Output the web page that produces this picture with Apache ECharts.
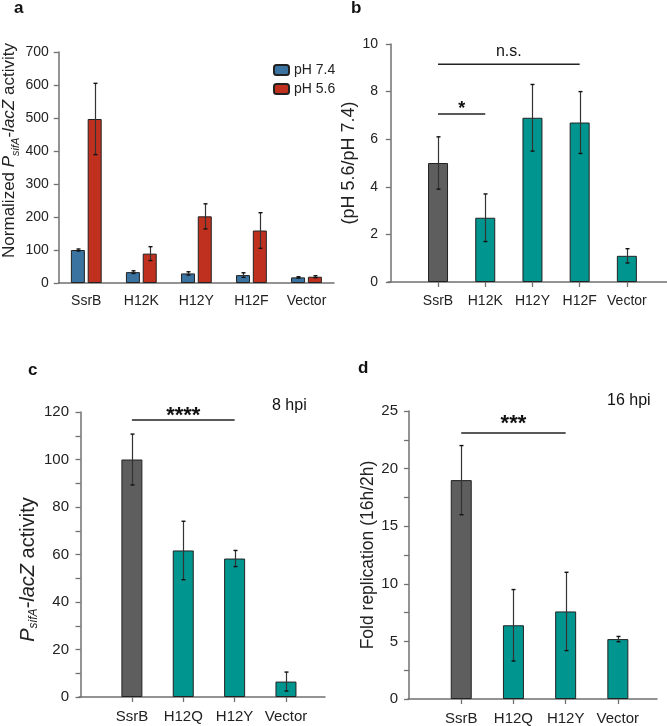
<!DOCTYPE html>
<html>
<head>
<meta charset="utf-8">
<script src="https://cdn.jsdelivr.net/npm/echarts@6/dist/echarts.min.js"></script>
<style>
  html, body { margin: 0; padding: 0; background: #fff; }
  #main { width: 667px; height: 726px; }
</style>
</head>
<body>
<div id="main"></div>
<script>
// panel a
const catsA = ['SsrB', 'H12K', 'H12Y', 'H12F', 'Vector'];
const ph74 = [100, 33, 29, 24, 17];
const ph74Err = [3, 4, 5, 7, 2];
const ph56 = [497, 89, 202, 159, 19];
const ph56Err = [108, 21, 38, 54, 3];
// panel b
const catsB = ['SsrB', 'H12K', 'H12Y', 'H12F', 'Vector'];
const ratioB = [5.0, 2.7, 6.9, 6.7, 1.1];
const ratioErr = [1.1, 1.0, 1.4, 1.3, 0.3];
const sigB = [[1, 4, 9.15], [1, 2, 7.06]];
const sigBText = ['n.s.', '*'];
// panel c
const catsC = ['SsrB', 'H12Q', 'H12Y', 'Vector'];
const lacC = [100, 61.7, 58.3, 6.5];
const lacErr = [10.7, 12.3, 3.4, 4.0];
const sigC = [[1, 3, 116.6]];
const sigCText = ['****'];
// panel d
const catsD = ['SsrB', 'H12Q', 'H12Y', 'Vector'];
const foldD = [19.0, 6.4, 7.6, 5.2];
const foldErr = [3.0, 3.1, 3.4, 0.23];
const sigD = [[1, 3, 23.1]];
const sigDText = ['***'];

const FONT = '"Liberation Sans", Arial, Helvetica, sans-serif';
const AXIS = '#707070';
const BLUE = '#3a72a0';
const RED = '#c0301f';
const GRAY = '#5e5e5e';
const TEAL = '#00968f';

const myChart = echarts.init(document.getElementById('main'));

function errData(vals, errs, xs) {
  return vals.map((v, i) => [xs ? xs[i] : i, v - errs[i], v + errs[i]]);
}

function errSeries(idx, data, dx) {
  return {
    type: 'custom',
    xAxisIndex: idx,
    yAxisIndex: idx,
    z: 10,
    silent: true,
    data: data,
    renderItem: function (params, api) {
      const lo = api.coord([api.value(0), api.value(1)]);
      const hi = api.coord([api.value(0), api.value(2)]);
      const x = Math.round(lo[0] + (dx || 0)) + 0.5;
      const cap = 2;
      return {
        type: 'group',
        children: [
          { type: 'line', shape: { x1: x, y1: lo[1], x2: x, y2: hi[1] }, style: { stroke: '#333', lineWidth: 1.2 } },
          { type: 'line', shape: { x1: x - cap, y1: lo[1], x2: x + cap, y2: lo[1] }, style: { stroke: '#111', lineWidth: 1.4 } },
          { type: 'line', shape: { x1: x - cap, y1: hi[1], x2: x + cap, y2: hi[1] }, style: { stroke: '#111', lineWidth: 1.4 } }
        ]
      };
    }
  };
}

// significance bar: line between two groups, text centred above it
function sigSeries(idx, data, texts, fontSize, bold, lift) {
  return {
    type: 'custom',
    xAxisIndex: idx,
    yAxisIndex: idx,
    silent: true,
    clip: false,
    z: 10,
    data: data,
    renderItem: function (params, api) {
      const a = api.coord([api.value(0), api.value(2)]);
      const b = api.coord([api.value(1), api.value(2)]);
      const k = params.dataIndex;
      return {
        type: 'group',
        children: [
          { type: 'line', shape: { x1: a[0], y1: a[1], x2: b[0], y2: b[1] }, style: { stroke: '#222', lineWidth: 1.5 } },
          { type: 'text', style: { text: texts[k], x: (a[0] + b[0]) / 2, y: a[1] - lift[k],
            align: 'center', verticalAlign: 'middle', fontSize: fontSize[k],
            fontWeight: bold[k] ? 'bold' : 'normal', fontFamily: FONT, fill: '#111' } }
        ]
      };
    }
  };
}

function yAxisBase(idx, max, interval, fs, minor) {
  return {
    type: 'value', gridIndex: idx, min: 0, max: max, interval: interval,
    axisLine: { show: true, lineStyle: { color: AXIS, width: 1.5 } },
    axisTick: { show: true, length: 5, lineStyle: { color: AXIS, width: 1.3 } },
    minorTick: { show: !!minor, splitNumber: 2, length: 5, lineStyle: { color: AXIS, width: 1.3 } },
    axisLabel: { color: '#222', fontSize: fs, fontFamily: FONT, margin: 10 },
    splitLine: { show: false }
  };
}

function xValueAxis(idx, cats, min, max, fs) {
  const vals = cats.map((c, i) => i + 1);
  return {
    type: 'value', gridIndex: idx, min: min, max: max,
    axisLine: { show: true, onZero: false, lineStyle: { color: AXIS, width: 1.5 } },
    axisTick: { show: true, length: 5, customValues: vals, lineStyle: { color: AXIS, width: 1.3 } },
    axisLabel: { customValues: vals, color: '#222', fontSize: fs, fontFamily: FONT, margin: 12,
      formatter: function (v) { return cats[Math.round(v) - 1] || ''; } },
    splitLine: { show: false }
  };
}

function nameRich(fs) {
  return {
    n: { fontSize: fs, fontFamily: FONT, color: '#222', lineHeight: 24 },
    i: { fontSize: fs, fontFamily: FONT, fontStyle: 'italic', color: '#222', lineHeight: 24 },
    s: { fontSize: Math.round(fs * 0.62), fontFamily: FONT, fontStyle: 'italic', color: '#222', lineHeight: 11, verticalAlign: 'bottom' }
  };
}

function label(text, x, y, fs, bold) {
  return { type: 'text', left: x, top: y, z: 20,
    style: { text: text, fontSize: fs, fontWeight: bold ? 'bold' : 'normal', fontFamily: FONT, fill: '#111' } };
}

const xs = catsB.map((c, i) => i + 1);
const xsC = catsC.map((c, i) => i + 1);

const yA = yAxisBase(0, 700, 100, 14);
yA.name = '{n|Normalized }{i|P}{s|sifA}{n|-}{i|lacZ}{n| activity}';
yA.nameLocation = 'middle';
yA.nameGap = 35;
yA.nameTextStyle = { rich: nameRich(17), padding: [0, 0, 0, 34] };

const yB = yAxisBase(1, 10, 2, 14);
yB.name = '(pH 5.6/pH 7.4)';
yB.nameLocation = 'middle';
yB.nameGap = 22;
yB.nameTextStyle = { fontSize: 18, fontFamily: FONT, color: '#222' };

const yC = yAxisBase(2, 120, 20, 15, true);
yC.name = '{i|P}{s|sifA}{i|-lacZ}{n| activity}';
yC.nameLocation = 'middle';
yC.nameGap = 33;
yC.nameTextStyle = { rich: nameRich(20), padding: [0, 30, 0, 0] };

const yD = yAxisBase(3, 25, 5, 15, true);
yD.name = 'Fold replication (16h/2h)';
yD.nameLocation = 'middle';
yD.nameGap = 30;
yD.nameTextStyle = { fontSize: 17.5, fontFamily: FONT, color: '#222' };

myChart.setOption({
  animation: false,
  backgroundColor: '#fff',
  textStyle: { fontFamily: FONT },
  grid: [
    { left: 56, top: 52, width: 278, height: 231 },
    { left: 388, top: 44, width: 279, height: 238 },
    { left: 79, top: 412, width: 246, height: 285 },
    { left: 408, top: 411, width: 249, height: 288 }
  ],
  legend: {
    data: ['pH 7.4', 'pH 5.6'],
    orient: 'vertical', left: 268, top: 58,
    itemWidth: 15, itemHeight: 10, itemGap: 5,
    textStyle: { fontSize: 14, fontFamily: FONT, color: '#222' }
  },
  xAxis: [
    {
      type: 'category', gridIndex: 0, data: catsA,
      axisLine: { lineStyle: { color: AXIS, width: 1.5 } },
      axisTick: { alignWithLabel: true, length: 5, lineStyle: { color: AXIS, width: 1.3 } },
      axisLabel: { color: '#222', fontSize: 14, fontFamily: FONT, margin: 11 }
    },
    xValueAxis(1, catsB, -0.06, 5.85, 14),
    xValueAxis(2, catsC, -0.03, 4.76, 15),
    xValueAxis(3, catsD, -0.02, 4.75, 15)
  ],
  yAxis: [yA, yB, yC, yD],
  series: [
    { name: 'pH 7.4', type: 'bar', xAxisIndex: 0, yAxisIndex: 0, data: ph74, barWidth: 14, barGap: '20%',
      itemStyle: { color: BLUE, borderColor: '#222', borderWidth: 1 } },
    { name: 'pH 5.6', type: 'bar', xAxisIndex: 0, yAxisIndex: 0, data: ph56, barWidth: 14, barGap: '20%',
      itemStyle: { color: RED, borderColor: '#222', borderWidth: 1 } },
    errSeries(0, errData(ph74, ph74Err), -8.4),
    errSeries(0, errData(ph56, ph56Err), 8.4),

    { type: 'bar', xAxisIndex: 1, yAxisIndex: 1, barWidth: 20,
      data: ratioB.map((v, i) => [xs[i], v]),
      itemStyle: { color: function (p) { return p.dataIndex === 0 ? GRAY : TEAL; }, borderColor: '#222', borderWidth: 1 } },
    errSeries(1, errData(ratioB, ratioErr, xs)),
    sigSeries(1, sigB, sigBText, [16, 18], [false, true], [13, 5]),

    { type: 'bar', xAxisIndex: 2, yAxisIndex: 2, barWidth: 21,
      data: lacC.map((v, i) => [xsC[i], v]),
      itemStyle: { color: function (p) { return p.dataIndex === 0 ? GRAY : TEAL; }, borderColor: '#222', borderWidth: 1 } },
    errSeries(2, errData(lacC, lacErr, xsC)),
    sigSeries(2, sigC, sigCText, [22], [true], [4]),

    { type: 'bar', xAxisIndex: 3, yAxisIndex: 3, barWidth: 21,
      data: foldD.map((v, i) => [xsC[i], v]),
      itemStyle: { color: function (p) { return p.dataIndex === 0 ? GRAY : TEAL; }, borderColor: '#222', borderWidth: 1 } },
    errSeries(3, errData(foldD, foldErr, xsC)),
    sigSeries(3, sigD, sigDText, [22], [true], [9])
  ],
  graphic: [
    label('a', 14, 0, 17, true),
    label('b', 351, 0, 17, true),
    label('c', 28, 362, 17, true),
    label('d', 358, 360, 17, true),
    label('8 hpi', 272, 398, 16),
    label('16 hpi', 607, 393, 16)
  ]
});
</script>
</body>
</html>
